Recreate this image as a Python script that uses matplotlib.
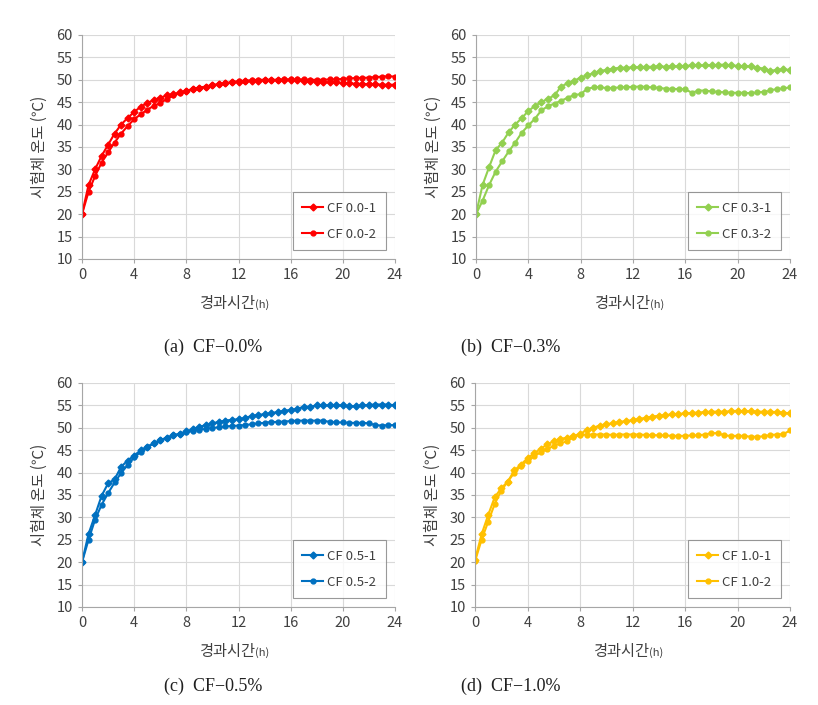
import matplotlib
matplotlib.use("Agg")
import matplotlib.pyplot as plt
import numpy as np

plt.rcParams['font.family'] = ['Noto Sans CJK KR', 'DejaVu Sans']

# 경과시간 (0.5 h 간격)
hours = np.arange(0, 24.5, 0.5)

cf00_1 = [20, 26.5, 30, 33, 35.5, 38, 40, 41.5, 42.8, 44, 44.8, 45.5, 46, 46.5, 46.8, 47.2, 47.5,
          48, 48.2, 48.5, 48.8, 49, 49.2, 49.4, 49.6, 49.7, 49.8, 49.8, 49.9, 49.9, 50, 50, 50,
          49.9, 49.8, 49.7, 49.6, 49.5, 49.4, 49.4, 49.3, 49.2, 49.1, 49.1, 49, 49, 48.9, 48.9, 48.9]
cf00_2 = [20, 25, 28.5, 31.5, 33.8, 36, 38, 39.7, 41.2, 42.3, 43.3, 44.2, 44.8, 45.7, 46.5, 47, 47.5,
          47.9, 48.2, 48.5, 48.8, 49, 49.2, 49.5, 49.7, 49.8, 49.9, 50, 50, 50, 50, 50.1, 50.1,
          50.1, 50.1, 50, 50, 50, 50.1, 50.1, 50.2, 50.3, 50.4, 50.4, 50.5, 50.6, 50.7, 50.8, 50.7]

cf03_1 = [20, 26.5, 30.5, 34.3, 36, 38.3, 40, 41.5, 43, 44.2, 45, 45.8, 46.5, 48.5, 49.2, 49.8, 50.5,
          51, 51.5, 52, 52.2, 52.5, 52.7, 52.7, 52.8, 52.8, 52.9, 52.9, 53, 52.9, 53, 53, 53.1,
          53.2, 53.2, 53.2, 53.3, 53.3, 53.4, 53.2, 53.1, 53, 53, 52.7, 52.5, 52, 52.2, 52.3, 52.2]
cf03_2 = [20, 23, 26.5, 29.5, 31.8, 34, 36, 38.2, 39.8, 41.3, 43.2, 44.1, 44.7, 45.3, 46, 46.6, 46.8,
          48, 48.3, 48.4, 48.1, 48.2, 48.3, 48.4, 48.4, 48.5, 48.4, 48.3, 48.2, 48, 48, 47.9, 47.9,
          47.1, 47.6, 47.6, 47.4, 47.3, 47.2, 47.1, 47.1, 47.1, 47, 47.2, 47.3, 47.7, 47.9, 48.1, 48.3]

cf05_1 = [20, 26.3, 30.5, 34.8, 37.6, 38.5, 41.3, 42.7, 43.8, 45, 45.8, 46.5, 47.2, 47.8, 48.3, 48.6, 49.2,
          49.7, 50.2, 50.6, 51, 51.3, 51.6, 51.8, 51.9, 52.2, 52.6, 52.9, 53, 53.3, 53.5, 53.8, 54,
          54.2, 54.7, 54.7, 55, 55, 55, 55, 55, 54.8, 54.8, 55, 55.1, 55.2, 55.2, 55.2, 55]
cf05_2 = [20, 25, 29.5, 32.8, 35.4, 37.8, 39.9, 41.7, 43.4, 44.6, 45.7, 46.5, 47.2, 47.8, 48.3, 48.7, 49,
          49.3, 49.5, 49.8, 50, 50.1, 50.3, 50.4, 50.5, 50.6, 50.8, 51, 51.1, 51.3, 51.3, 51.4, 51.5,
          51.6, 51.6, 51.6, 51.6, 51.6, 51.3, 51.2, 51.2, 51.1, 51.1, 51.1, 51, 50.6, 50.5, 50.6, 50.6]

cf10_1 = [20.5, 26.2, 30.5, 34.5, 36.5, 38, 40.5, 41.8, 43.2, 44.3, 45.3, 46.3, 47, 47.5, 47.8, 48.2, 48.6,
          49.5, 50, 50.5, 50.8, 51, 51.3, 51.5, 51.7, 52, 52.2, 52.5, 52.7, 52.8, 53, 53.1, 53.2,
          53.3, 53.4, 53.5, 53.6, 53.6, 53.6, 53.7, 53.8, 53.7, 53.7, 53.6, 53.6, 53.6, 53.5, 53.4, 53.2]
cf10_2 = [20.2, 25, 29, 33, 36, 38, 40, 41.5, 42.7, 43.7, 44.5, 45.2, 46, 46.5, 47, 48, 48.4,
          48.5, 48.5, 48.5, 48.5, 48.4, 48.5, 48.5, 48.5, 48.5, 48.4, 48.4, 48.3, 48.3, 48.2, 48.2, 48.2,
          48.3, 48.3, 48.5, 48.8, 48.8, 48.3, 48.2, 48.2, 48.2, 48, 48, 48.1, 48.4, 48.5, 48.6, 49.4]

panels = [
    ("CF 0.0", cf00_1, cf00_2, "#FF0000", "(a)  CF−0.0%"),
    ("CF 0.3", cf03_1, cf03_2, "#92D050", "(b)  CF−0.3%"),
    ("CF 0.5", cf05_1, cf05_2, "#0070C0", "(c)  CF−0.5%"),
    ("CF 1.0", cf10_1, cf10_2, "#FFC000", "(d)  CF−1.0%"),
]

W, H = 818, 705
# 축 위치 (픽셀: 왼쪽, 위, 오른쪽, 아래)
boxes = [(82, 35, 395, 259), (476, 35, 790, 259), (82, 383, 395, 607), (475, 383, 790, 607)]
caption_pos = [(213, 347), (511, 347), (213, 686), (511, 686)]

fig = plt.figure(figsize=(W / 100, H / 100), dpi=100)

for (name, s1, s2, color, cap), (l, t, r, b), (cx, cy) in zip(panels, boxes, caption_pos):
    ax = fig.add_axes([l / W, 1 - b / H, (r - l) / W, (b - t) / H])
    ax.plot(hours, s1, color=color, marker="D", markersize=3.5, linewidth=1.5, label=name + "-1")
    ax.plot(hours, s2, color=color, marker="o", markersize=3.5, linewidth=1.5, label=name + "-2")
    ax.set_xlim(0, 24)
    ax.set_ylim(10, 60)
    ax.set_xticks(range(0, 25, 4))
    ax.set_yticks(range(10, 61, 5))
    ax.grid(True, color="#D9D9D9", linewidth=0.8)
    ax.set_axisbelow(True)
    for side in ["top", "right"]:
        ax.spines[side].set_visible(False)
    for side in ["left", "bottom"]:
        ax.spines[side].set_color("#A6A6A6")
    ax.tick_params(colors="#A6A6A6", labelcolor="#404040", labelsize=10.5, length=3)
    ax.set_ylabel("시험체 온도 (℃)", fontsize=11, color="#404040", labelpad=6)
    ax.text(0.553, -0.197, "경과시간", transform=ax.transAxes, ha="right", va="center",
            fontsize=11, color="#404040")
    ax.text(0.553, -0.205, "(h)", transform=ax.transAxes, ha="left", va="center",
            fontsize=8, color="#404040")
    leg = ax.legend(loc="lower right", bbox_to_anchor=(0.97, 0.04), borderaxespad=0,
                    fontsize=9.5, fancybox=False, edgecolor="#808080", labelspacing=1.0,
                    handlelength=1.6, handletextpad=0.3, borderpad=0.7)
    leg.get_frame().set_linewidth(0.8)
    for txt in leg.get_texts():
        txt.set_color("#404040")
    fig.text(cx / W, 1 - cy / H, cap, ha="center", va="center", fontsize=13,
             family="Liberation Serif", color="#202020")

fig.savefig("out.png", dpi=100)
